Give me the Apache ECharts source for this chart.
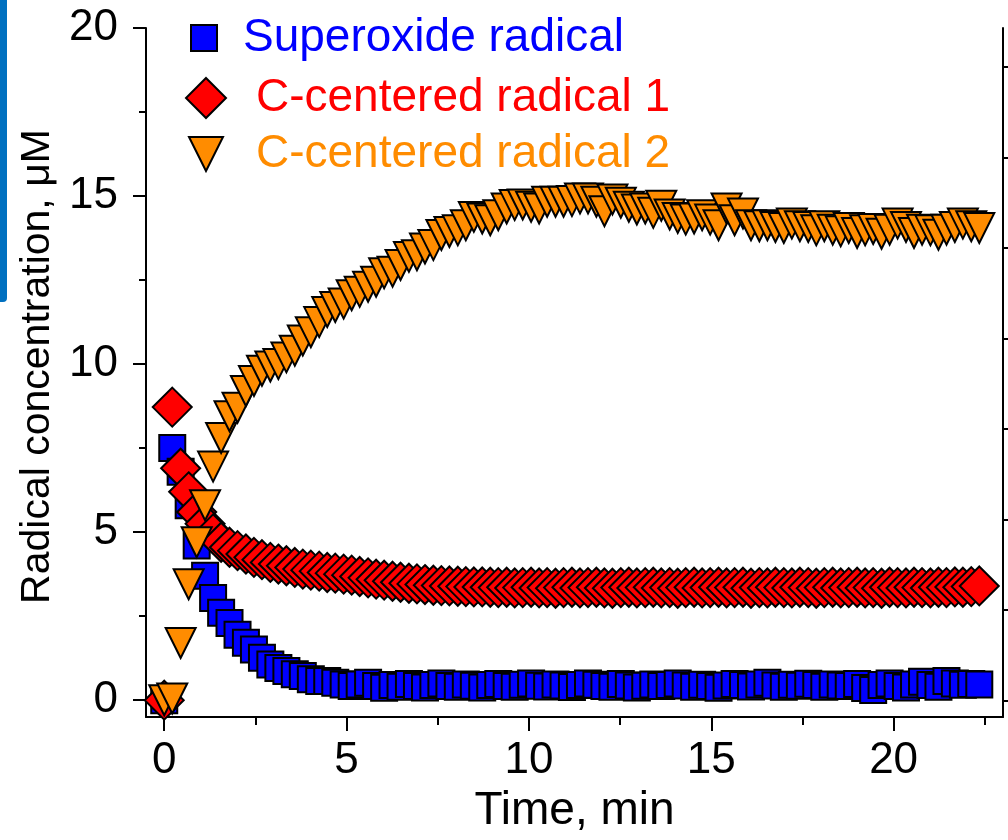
<!DOCTYPE html>
<html>
<head>
<meta charset="utf-8">
<script src="https://cdn.jsdelivr.net/npm/echarts@6/dist/echarts.min.js"></script>
<style>
  html, body { margin: 0; padding: 0; background: #ffffff; }
  #chart { width: 1008px; height: 840px; }
</style>
</head>
<body>
<div id="chart"></div>
<script>
// Sampling times, min
const timeMin = [
  0, 0.22, 0.45, 0.67, 0.89, 1.12, 1.34, 1.56, 1.79, 2.01,
  2.24, 2.46, 2.68, 2.91, 3.13, 3.35, 3.58, 3.80, 4.02, 4.25,
  4.47, 4.69, 4.92, 5.14, 5.36, 5.59, 5.81, 6.03, 6.26, 6.48,
  6.71, 6.93, 7.15, 7.38, 7.60, 7.82, 8.05, 8.27, 8.49, 8.72,
  8.94, 9.16, 9.39, 9.61, 9.83, 10.06, 10.28, 10.50, 10.73, 10.95,
  11.18, 11.40, 11.62, 11.85, 12.07, 12.29, 12.52, 12.74, 12.96, 13.19,
  13.41, 13.63, 13.86, 14.08, 14.30, 14.53, 14.75, 14.97, 15.20, 15.42,
  15.64, 15.87, 16.09, 16.32, 16.54, 16.76, 16.99, 17.21, 17.43, 17.66,
  17.88, 18.10, 18.33, 18.55, 18.77, 19.00, 19.22, 19.44, 19.67, 19.89,
  20.11, 20.34, 20.56, 20.78, 21.01, 21.23, 21.45, 21.68, 21.90, 22.13,
  22.35
];

// Superoxide radical, uM
const superoxide = [
  0, 7.5, 6.8, 5.8, 4.6, 3.7, 3.04, 2.6, 2.3, 1.95,
  1.71, 1.51, 1.26, 1.06, 0.96, 0.87, 0.77, 0.72, 0.62, 0.57,
  0.57, 0.52, 0.47, 0.42, 0.47, 0.52, 0.42, 0.37, 0.45, 0.40,
  0.48, 0.42, 0.38, 0.45, 0.50, 0.42, 0.40, 0.47, 0.43, 0.38,
  0.45, 0.48, 0.42, 0.40, 0.46, 0.50, 0.43, 0.41, 0.47, 0.44,
  0.39, 0.45, 0.50, 0.46, 0.42, 0.40, 0.48, 0.44, 0.38, 0.43,
  0.47, 0.42, 0.45, 0.50, 0.44, 0.40, 0.46, 0.42, 0.37, 0.44,
  0.48, 0.45, 0.41, 0.47, 0.52, 0.44, 0.40, 0.46, 0.43, 0.49,
  0.45, 0.40, 0.47, 0.44, 0.42, 0.48, 0.36, 0.30, 0.45, 0.50,
  0.42, 0.38, 0.47, 0.55, 0.45, 0.40, 0.57, 0.50, 0.46, 0.48,
  0.47
];

// C-centered radical 1, uM
const cRadical1 = [
  0, 8.72, 6.9, 6.2, 5.6, 5.25, 4.95, 4.7, 4.55, 4.45,
  4.35, 4.25, 4.18, 4.1, 4.05, 4.0, 3.95, 3.9, 3.87, 3.84,
  3.8, 3.78, 3.75, 3.72, 3.68, 3.64, 3.6, 3.57, 3.54, 3.51,
  3.48, 3.46, 3.44, 3.42, 3.41, 3.4, 3.39, 3.38, 3.37, 3.37,
  3.36, 3.35, 3.36, 3.34, 3.35, 3.36, 3.34, 3.35, 3.33, 3.35,
  3.36, 3.34, 3.35, 3.36, 3.34, 3.33, 3.35, 3.36, 3.34, 3.35,
  3.36, 3.34, 3.35, 3.33, 3.35, 3.36, 3.34, 3.35, 3.36, 3.34,
  3.35, 3.36, 3.33, 3.35, 3.34, 3.36, 3.35, 3.34, 3.36, 3.35,
  3.33, 3.35, 3.36, 3.34, 3.35, 3.36, 3.34, 3.35, 3.33, 3.36,
  3.35, 3.34, 3.36, 3.35, 3.34, 3.36, 3.35, 3.37, 3.36, 3.38,
  3.40
];

// C-centered radical 2, uM
const cRadical2 = [
  0, 0.05, 1.7, 3.45, 4.7, 5.8, 6.95, 7.8, 8.45, 8.7,
  9.2, 9.5, 9.8, 9.93, 10.0, 10.2, 10.4, 10.7, 10.95, 11.25,
  11.55, 11.7, 11.8, 12.05, 12.15, 12.3, 12.45, 12.7, 12.75, 12.95,
  13.19, 13.24, 13.44, 13.54, 13.84, 13.93, 13.98, 14.13, 14.38, 14.33,
  14.28, 14.43, 14.63, 14.73, 14.75, 14.68, 14.63, 14.83, 14.83, 14.83,
  14.85, 14.93, 14.93, 14.83, 14.55, 14.9, 14.8, 14.68, 14.6, 14.63,
  14.5, 14.71, 14.45, 14.35, 14.3, 14.33, 14.43, 14.3, 14.13, 14.63,
  14.28, 14.48, 14.13, 14.1, 14.13, 14.08, 14.05, 14.18, 14.1, 14.08,
  13.98, 14.1, 14.0, 13.95, 14.05, 13.9, 13.98, 14.02, 13.88, 14.0,
  14.18, 14.08, 13.9, 14.0, 13.98, 13.85, 14.0, 14.08, 14.18, 14.1,
  14.05
];

const seriesNames = ['Superoxide radical', 'C-centered radical 1', 'C-centered radical 2'];
const xMajorTicks = [0, 5, 10, 15, 20];
const xMinorTicks = [2.5, 7.5, 12.5, 17.5, 22.5];
const yMajorTicks = [0, 5, 10, 15, 20];
const yMinorTicks = [2.5, 7.5, 12.5, 17.5];
const rightTicks = [0, 1, 2, 3, 4, 5, 6, 7];

const FONT = 'Liberation Sans, Arial, sans-serif';
const BLUE = '#0000ff';
const RED = '#ff0000';
const ORANGE = '#ff8c00';

function toPoints(values) {
  return timeMin.map((t, i) => [t, values[i]]);
}

const chart = echarts.init(document.getElementById('chart'), null, { renderer: 'canvas' });

const plotRect = { left: 146, right: 5, top: 28, bottom: 123, containLabel: false };
const axisLineStyle = { color: '#000', width: 2 };
const hiddenLine = { show: true, onZero: false, lineStyle: { color: 'rgba(0,0,0,0)', width: 2 } };
const markerBorder = { borderColor: '#000', borderWidth: 2, opacity: 1 };

chart.setOption({
  backgroundColor: '#ffffff',
  animation: false,
  textStyle: { fontFamily: FONT },
  graphic: [{
    type: 'rect',
    left: 0, top: 0,
    shape: { width: 7, height: 302, r: [0, 0, 4, 0] },
    style: { fill: '#0070c0' },
    z: 10
  }],
  // grid 0 holds the data; grid 1 (same rectangle) only carries the minor ticks of the left axis
  grid: [Object.assign({}, plotRect), Object.assign({}, plotRect)],
  legend: [
    {
      data: [seriesNames[0]],
      left: 190, top: 15,
      orient: 'vertical',
      selectedMode: false,
      padding: 0,
      icon: 'rect',
      itemWidth: 26, itemHeight: 26,
      itemStyle: markerBorder,
      textStyle: { color: BLUE, fontSize: 46, fontFamily: FONT, lineHeight: 40, padding: [0, 0, 0, 21] }
    },
    {
      data: [seriesNames[1]],
      left: 185, top: 75,
      orient: 'vertical',
      selectedMode: false,
      padding: 0,
      icon: 'diamond',
      itemWidth: 40, itemHeight: 40,
      itemStyle: markerBorder,
      textStyle: { color: RED, fontSize: 46, fontFamily: FONT, lineHeight: 40, padding: [0, 0, 0, 25] }
    },
    {
      data: [seriesNames[2]],
      left: 188, top: 131,
      orient: 'vertical',
      selectedMode: false,
      padding: 0,
      icon: 'path://M0,0L20,0L10,20Z',
      itemWidth: 34, itemHeight: 34,
      itemStyle: markerBorder,
      textStyle: { color: ORANGE, fontSize: 46, fontFamily: FONT, lineHeight: 40, padding: [0, 0, 0, 28] }
    }
  ],
  xAxis: [
    {
      type: 'value',
      gridIndex: 0,
      min: -0.5, max: 23,
      position: 'bottom',
      name: 'Time, min',
      nameLocation: 'middle',
      nameGap: 58,
      nameTextStyle: { color: '#000', fontSize: 46, fontFamily: FONT },
      axisLine: { show: true, onZero: false, lineStyle: axisLineStyle },
      axisTick: { show: true, inside: false, length: 14, customValues: xMajorTicks, lineStyle: axisLineStyle },
      axisLabel: { show: true, customValues: xMajorTicks, margin: 22, color: '#000', fontSize: 44, fontFamily: FONT },
      splitLine: { show: false }
    },
    {
      type: 'value',
      gridIndex: 0,
      min: -0.5, max: 23,
      position: 'bottom',
      offset: 0,
      axisLine: hiddenLine,
      axisTick: { show: true, inside: false, length: 8, customValues: xMinorTicks, lineStyle: axisLineStyle },
      axisLabel: { show: false },
      splitLine: { show: false }
    },
    {
      type: 'value',
      gridIndex: 1,
      min: 1, max: 2,
      position: 'top',
      show: false
    }
  ],
  yAxis: [
    {
      type: 'value',
      gridIndex: 0,
      min: -0.5, max: 20,
      position: 'left',
      name: 'Radical concentration, \u03bcM',
      nameLocation: 'middle',
      nameGap: 84,
      nameTextStyle: { color: '#000', fontSize: 41, fontFamily: FONT, padding: [0, 0, 0, 12] },
      axisLine: { show: true, onZero: false, lineStyle: axisLineStyle },
      axisTick: { show: true, inside: false, length: 13, customValues: yMajorTicks, lineStyle: axisLineStyle },
      axisLabel: { show: true, customValues: yMajorTicks, margin: 28, color: '#000', fontSize: 44, fontFamily: FONT },
      splitLine: { show: false }
    },
    {
      type: 'value',
      gridIndex: 0,
      min: -0.18, max: 7.43,
      position: 'right',
      axisLine: { show: true, onZero: false, lineStyle: axisLineStyle },
      axisTick: { show: true, inside: false, length: 6, customValues: rightTicks, lineStyle: axisLineStyle },
      axisLabel: { show: false },
      splitLine: { show: false }
    },
    {
      type: 'value',
      gridIndex: 1,
      min: -0.5, max: 20,
      position: 'left',
      axisLine: hiddenLine,
      axisTick: { show: true, inside: false, length: 7, customValues: yMinorTicks, lineStyle: axisLineStyle },
      axisLabel: { show: false },
      splitLine: { show: false }
    }
  ],
  series: [
    {
      name: seriesNames[0],
      type: 'scatter',
      data: toPoints(superoxide),
      symbol: 'rect',
      symbolSize: 26,
      itemStyle: Object.assign({ color: BLUE }, markerBorder),
      z: 2
    },
    {
      name: seriesNames[1],
      type: 'scatter',
      data: toPoints(cRadical1),
      symbol: 'diamond',
      symbolSize: 39,
      itemStyle: Object.assign({ color: RED }, markerBorder),
      z: 3
    },
    {
      name: seriesNames[2],
      type: 'scatter',
      data: toPoints(cRadical2),
      symbol: 'triangle',
      symbolRotate: 180,
      symbolSize: [30, 30],
      itemStyle: Object.assign({ color: ORANGE }, markerBorder),
      z: 4
    }
  ]
});
</script>
</body>
</html>
